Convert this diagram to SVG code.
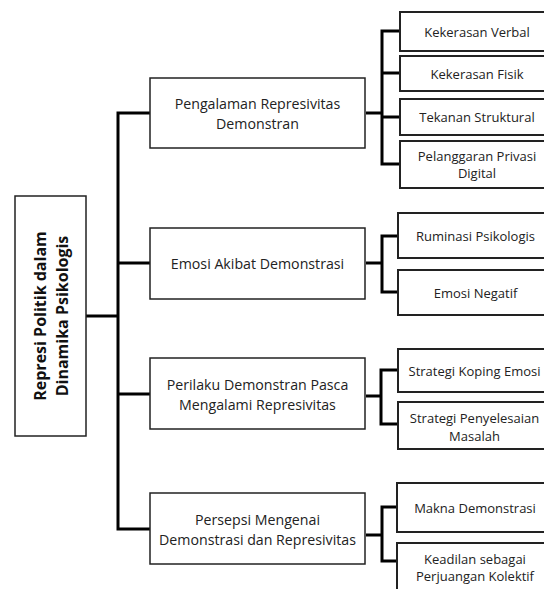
<svg xmlns="http://www.w3.org/2000/svg" width="544" height="589" viewBox="0 0 544 589">
<style>
.bx{fill:#fff;stroke:#222;stroke-width:1.5}
.lf{fill:#fff;stroke:#222;stroke-width:2}
.t{font-family:"Open Sans","Liberation Sans",sans-serif;fill:#222;text-anchor:middle;dominant-baseline:central}
.t1{font-size:14.2px}
.t2{font-size:13px}
.tr{font-size:16px;font-weight:bold;fill:#111}
.c{fill:none;stroke:#000;stroke-width:3;stroke-linejoin:miter}
</style>
<rect width="544" height="589" fill="#fff"/>
<g id="connectors">
<path class="c" d="M86,316H118M150,113H118V529H150M118,263H150M118,394H150"/>
<path class="c" d="M366,113H382M401,31H382V164H401M382,73H401M382,117H401"/>
<path class="c" d="M366,263H382M398,236H382V292H398"/>
<path class="c" d="M366,396H381M398,370H381V424H398"/>
<path class="c" d="M366,535H382M397,507H382V561H397"/>
</g>
<g id="root">
<rect class="bx" x="15" y="196" width="71" height="240"/>
<g transform="translate(50.5,316) rotate(-90)">
<text class="t tr" x="0" y="-11">Represi Politik dalam</text>
<text class="t tr" x="0" y="11">Dinamika Psikologis</text>
</g>
</g>
<g id="n1">
<rect class="bx" x="150" y="78" width="215" height="70"/>
<text class="t t1" x="257.5" y="103">Pengalaman Represivitas</text>
<text class="t t1" x="257.5" y="123">Demonstran</text>
</g>
<g id="n2">
<rect class="bx" x="150" y="228" width="215" height="71"/>
<text class="t t1" x="257.5" y="263">Emosi Akibat Demonstrasi</text>
</g>
<g id="n3">
<rect class="bx" x="150" y="358" width="215" height="71"/>
<text class="t t1" x="257.5" y="384">Perilaku Demonstran Pasca</text>
<text class="t t1" x="257.5" y="404">Mengalami Represivitas</text>
</g>
<g id="n4">
<rect class="bx" x="150" y="493" width="215" height="71"/>
<text class="t t1" x="257.5" y="519">Persepsi Mengenai</text>
<text class="t t1" x="257.5" y="539">Demonstrasi dan Represivitas</text>
</g>
<g id="l1">
<rect class="lf" x="400" y="12" width="155" height="39"/>
<text class="t t2" x="477" y="32">Kekerasan Verbal</text>
</g>
<g id="l2">
<rect class="lf" x="400" y="56" width="155" height="35"/>
<text class="t t2" x="477" y="73.5">Kekerasan Fisik</text>
</g>
<g id="l3">
<rect class="lf" x="400" y="99" width="155" height="36"/>
<text class="t t2" x="477" y="117">Tekanan Struktural</text>
</g>
<g id="l4">
<rect class="lf" x="400" y="141" width="155" height="47"/>
<text class="t t2" x="477" y="156">Pelanggaran Privasi</text>
<text class="t t2" x="477" y="173">Digital</text>
</g>
<g id="l5">
<rect class="lf" x="398" y="213" width="155" height="45"/>
<text class="t t2" x="475.5" y="236">Ruminasi Psikologis</text>
</g>
<g id="l6">
<rect class="lf" x="398" y="270" width="155" height="45"/>
<text class="t t2" x="475.5" y="293">Emosi Negatif</text>
</g>
<g id="l7">
<rect class="lf" x="398" y="349" width="155" height="43"/>
<text class="t t2" x="474.5" y="371">Strategi Koping Emosi</text>
</g>
<g id="l8">
<rect class="lf" x="398" y="402" width="155" height="47"/>
<text class="t t2" x="474.5" y="418">Strategi Penyelesaian</text>
<text class="t t2" x="474.5" y="436">Masalah</text>
</g>
<g id="l9">
<rect class="lf" x="397" y="483" width="155" height="49"/>
<text class="t t2" x="475" y="508">Makna Demonstrasi</text>
</g>
<g id="l10">
<rect class="lf" x="397" y="543" width="155" height="60"/>
<text class="t t2" x="475" y="559">Keadilan sebagai</text>
<text class="t t2" x="475" y="576">Perjuangan Kolektif</text>
</g>
</svg>
